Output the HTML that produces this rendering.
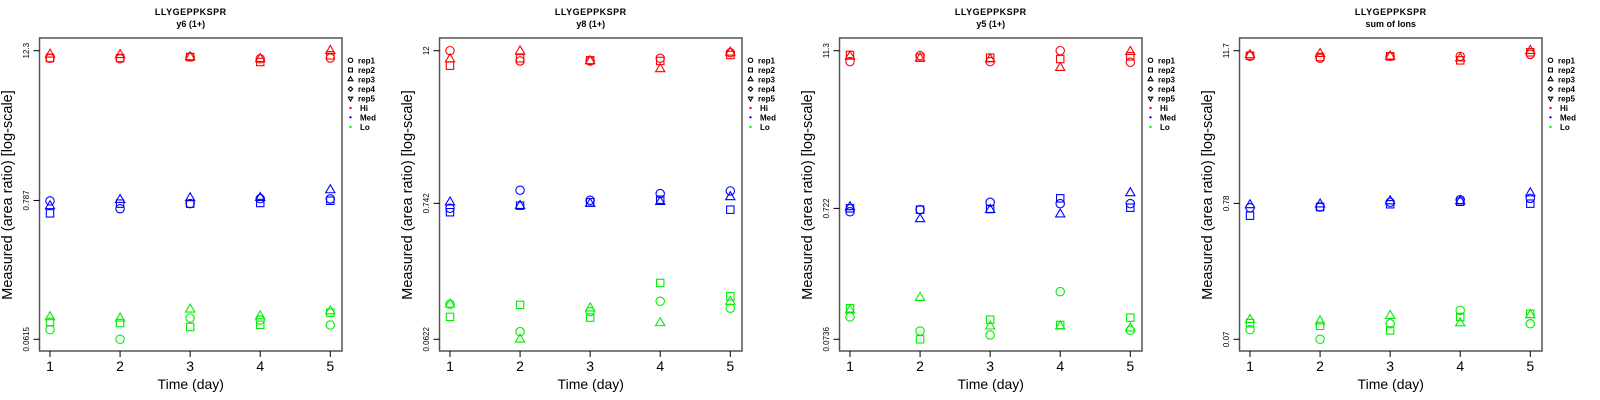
<!DOCTYPE html>
<html><head><meta charset="utf-8"><style>
html,body{margin:0;padding:0;background:#fff;}
svg{display:block;font-family:"Liberation Sans",sans-serif;}
</style></head><body>
<svg id="chart" width="1600" height="400" xmlns="http://www.w3.org/2000/svg"></svg>
<script>
const days = [1, 2, 3, 4, 5];
const panelTitles = ["y6 (1+)", "y8 (1+)", "y5 (1+)", "sum of Ions"];
const peptide = "LLYGEPPKSPR";
const yTicks1 = [0.0615, 0.787, 12.3];
const yTicks2 = [0.0622, 0.742, 12];
const yTicks3 = [0.0736, 0.722, 11.3];
const yTicks4 = [0.07, 0.78, 11.7];
const yTickLabels1 = ["0.0615", "0.787", "12.3"];
const yTickLabels2 = ["0.0622", "0.742", "12"];
const yTickLabels3 = ["0.0736", "0.722", "11.3"];
const yTickLabels4 = ["0.07", "0.78", "11.7"];
// values per day: [rep1, rep2, rep3]
const hi1 = [[10.7,10.75,11.5],[10.6,10.75,11.4],[10.96,10.96,10.96],[10.6,10.0,10.6],[10.75,11.3,12.3]];
const med1 = [[0.78,0.621,0.711],[0.676,0.742,0.797],[0.742,0.742,0.823],[0.813,0.751,0.827],[0.81,0.783,0.953]];
const lo1 = [[0.0733,0.0845,0.0927],[0.0615,0.0829,0.0904],[0.0908,0.077,0.1066],[0.0876,0.0803,0.0942],[0.0799,0.1002,0.1033]];
const hi2 = [[12,9.13,10.3],[9.95,10.45,11.9],[9.95,10.07,9.95],[10.45,9.95,8.6],[11.57,11.1,11.65]];
const med2 = [[0.678,0.631,0.757],[0.942,0.711,0.711],[0.785,0.757,0.738],[0.886,0.793,0.765],[0.930,0.661,0.834]];
const lo2 = [[0.1178,0.0936,0.1178],[0.0715,0.1165,0.0622],[0.103,0.0924,0.1096],[0.1245,0.1738,0.0839],[0.1096,0.1364,0.1236]];
const hi3 = [[9.33,10.49,10.25],[10.36,10.0,9.9],[9.33,10.0,9.77],[11.3,9.77,8.4],[9.23,10.25,11.1]];
const med3 = [[0.681,0.723,0.740],[0.706,0.706,0.600],[0.803,0.714,0.706],[0.784,0.861,0.652],[0.784,0.731,0.945]];
const lo3 = [[0.1087,0.1265,0.1223],[0.0851,0.0736,0.152],[0.0793,0.1037,0.0924],[0.169,0.0945,0.0924],[0.0861,0.1074,0.0893]];
const hi4 = [[10.59,10.71,10.85],[10.23,10.46,11.09],[10.59,10.59,10.59],[10.59,9.86,10.23],[10.97,11.37,11.7]];
const med4 = [[0.722,0.627,0.758],[0.731,0.731,0.768],[0.795,0.768,0.813],[0.832,0.803,0.813],[0.853,0.776,0.937]];
const lo4 = [[0.0829,0.0933,0.099],[0.07,0.0889,0.0967],[0.0922,0.082,0.1063],[0.117,0.1039,0.0933],[0.0922,0.110,0.1077]];
const levelNames = ["Hi", "Med", "Lo"];
const repNames = ["rep1", "rep2", "rep3", "rep4", "rep5"];

const NS = "http://www.w3.org/2000/svg";
const svg = document.getElementById("chart");
const colors = ["#ff0000", "#0000ff", "#00ee00"];
const panels = [
  {ticks: yTicks1, labels: yTickLabels1, series: [hi1, med1, lo1]},
  {ticks: yTicks2, labels: yTickLabels2, series: [hi2, med2, lo2]},
  {ticks: yTicks3, labels: yTickLabels3, series: [hi3, med3, lo3]},
  {ticks: yTicks4, labels: yTickLabels4, series: [hi4, med4, lo4]}
];
function mk(tag, attrs, parent) {
  const e = document.createElementNS(NS, tag);
  for (const k in attrs) e.setAttribute(k, attrs[k]);
  (parent || svg).appendChild(e);
  return e;
}
function marker(shape, cx, cy, s, color, parent) {
  let e;
  if (shape === 0) e = mk("circle", {cx: cx, cy: cy, r: s, fill: "none", stroke: color, "stroke-width": 1.1}, parent);
  else if (shape === 1) e = mk("rect", {x: cx - s*0.88, y: cy - s*0.88, width: s*1.76, height: s*1.76, fill: "none", stroke: color, "stroke-width": 1.1}, parent);
  else if (shape === 2) e = mk("polygon", {points: `${cx},${cy - s*1.25} ${cx - s*1.1},${cy + s*0.65} ${cx + s*1.1},${cy + s*0.65}`, fill: "none", stroke: color, "stroke-width": 1.1}, parent);
  else if (shape === 3) e = mk("polygon", {points: `${cx},${cy - s} ${cx + s},${cy} ${cx},${cy + s} ${cx - s},${cy}`, fill: "none", stroke: color, "stroke-width": 1.1}, parent);
  else e = mk("polygon", {points: `${cx},${cy + s*1.15} ${cx - s},${cy - s*0.6} ${cx + s},${cy - s*0.6}`, fill: "none", stroke: color, "stroke-width": 1.1}, parent);
  return e;
}
panels.forEach((p, pi) => {
  const ox = pi * 400;
  const g = mk("g", {transform: `translate(${ox},0)`});
  
  
  const L = 39.5, R = 342, T = 38, B = 351;
  const xS = d => 50 + (d - 1) * (330.3 - 50) / 4;
  const lmin = Math.log(Math.min(...p.ticks)), lmax = Math.log(Math.max(...p.ticks));
  const yS = v => 339.3 - (Math.log(v) - lmin) / (lmax - lmin) * (339.3 - 50.7);
  const t1 = mk("text", {x: 190.75, y: 15, "text-anchor": "middle", "font-size": 9, "font-weight": "bold", "letter-spacing": "0.5"}, g);
  t1.textContent = peptide;
  
  
  const t2 = mk("text", {x: 190.75, y: 27, "text-anchor": "middle", "font-size": 9, "font-weight": "bold"}, g);
  t2.textContent = panelTitles[pi];
  
  
  const box = mk("rect", {x: L, y: T, width: R - L, height: B - T, fill: "none", stroke: "#555", "stroke-width": 1.5}, g);
  
  
  days.forEach(d => {
    const x = xS(d);
    const tk = mk("line", {x1: x, x2: x, y1: B, y2: B + 6, stroke: "#000", "stroke-width": 1}, g);
    
    
    const tl = mk("text", {x: x, y: 371, "text-anchor": "middle", "font-size": 14}, g);
    tl.textContent = d;
    
    
  });
  const xt = mk("text", {x: 190.75, y: 389, "text-anchor": "middle", "font-size": 14}, g);
  xt.textContent = "Time (day)";
  
  
  p.ticks.forEach((v, i) => {
    const y = yS(v);
    const tk = mk("line", {x1: L - 6, x2: L, y1: y, y2: y, stroke: "#000", "stroke-width": 1}, g);
    
    
    const tl = mk("text", {x: 0, y: 0, "text-anchor": "middle", "font-size": 8, transform: `translate(29,${y}) rotate(-90)`}, g);
    tl.textContent = p.labels[i];
    
    
  });
  const yt = mk("text", {x: 0, y: 0, "text-anchor": "middle", "font-size": 14.5, transform: `translate(12,195) rotate(-90)`}, g);
  yt.textContent = "Measured (area ratio) [log-scale]";
  
  
  p.series.forEach((ser, li) => {
    ser.forEach((vals, di) => {
      vals.forEach((v, ri) => {
        const m = marker(ri, xS(days[di]), yS(v), 4.2, colors[li], g);
        
        
      });
    });
  });
  const lg = mk("g", {}, g);
  
  
  const rowsY = [60.3, 70, 79.3, 89, 98.5, 108, 117.3, 127];
  repNames.forEach((n, i) => {
    const s = marker(i, 350.5, rowsY[i], 2.2, "#000", lg);
    
    
    const t = mk("text", {x: 358, y: rowsY[i] + 3, "font-size": 8, "font-weight": "bold"}, lg);
    t.textContent = n;
    
    
  });
  levelNames.forEach((n, i) => {
    const y = rowsY[5 + i];
    const s = mk("circle", {cx: 350.5, cy: y, r: 1.2, fill: colors[i]}, lg);
    
    
    const t = mk("text", {x: 360, y: y + 3, "font-size": 8, "font-weight": "bold"}, lg);
    t.textContent = n;
    
    
  });
});
</script>
</body></html>
